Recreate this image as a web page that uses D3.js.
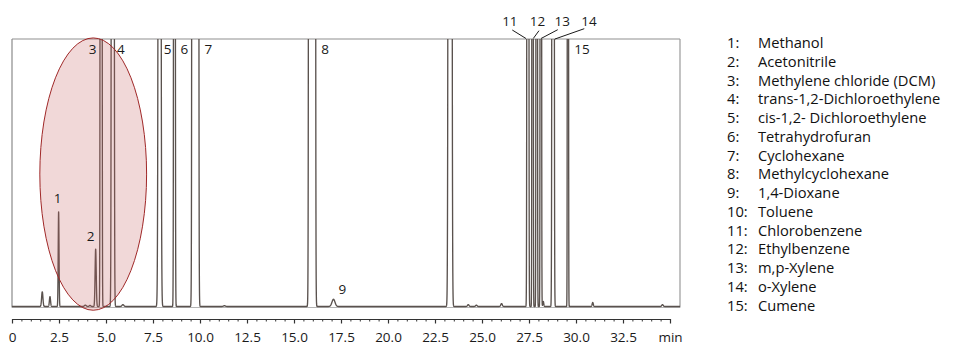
<!DOCTYPE html>
<html>
<head>
<meta charset="utf-8">
<script src="https://cdn.jsdelivr.net/npm/d3@7"></script>
<style>
  body { margin: 0; background: #fff; }
  svg { display: block; font-family: "Open Sans", sans-serif; }
</style>
</head>
<body>
<div id="chart"></div>
<script>
// labelled peaks: id, retention time (min), height (relative, 100 = top of frame), sigma (min)
const peakIds = ["1", "2", "3", "4", "5", "6", "7", "8", "9", "10", "11", "12", "13", "14", "15"];
const peakTimes = [2.48, 4.45, 4.74, 5.36, 7.85, 8.64, 9.75, 15.96, 17.10, 23.30, 27.44, 27.69, 28.13, 28.78, 29.57];
const peakHeights = [35.4, 21.5, 3000, 3000, 1100, 1500, 1e6, 1e6, 2.7, 5000, 3000, 2000, 2000, 3000, 1500];
const peakSigmas = [0.022, 0.03, 0.0234, 0.0336, 0.0413, 0.0228, 0.0453, 0.0459, 0.08, 0.0428, 0.0234, 0.0174, 0.0185, 0.0275, 0.016];

// unlabelled peaks / baseline bumps
const minorTimes = [1.61, 2.02, 3.90, 4.15, 5.90, 11.30, 24.27, 24.70, 26.04, 27.91, 28.26, 30.89, 34.60];
const minorHeights = [5.5, 3.7, 0.5, 0.4, 0.7, 0.3, 0.7, 0.5, 1.1, 2000, 1.9, 1.5, 0.7];
const minorSigmas = [0.035, 0.03, 0.05, 0.04, 0.05, 0.05, 0.04, 0.04, 0.04, 0.0185, 0.025, 0.03, 0.04];

const majorTicks = [0, 2.5, 5, 7.5, 10, 12.5, 15, 17.5, 20, 22.5, 25, 27.5, 30, 32.5, 35];

const legendNames = [
  "Methanol", "Acetonitrile", "Methylene chloride (DCM)", "trans-1,2-Dichloroethylene",
  "cis-1,2- Dichloroethylene", "Tetrahydrofuran", "Cyclohexane", "Methylcyclohexane",
  "1,4-Dioxane", "Toluene", "Chlorobenzene", "Ethylbenzene", "m,p-Xylene", "o-Xylene", "Cumene"
];

// where the peak numbers are drawn (px offset from peak, baseline y); no entry = no label
const labelLayout = {
  "1": { dx: -1, y: 203 }, "2": { dx: -5, y: 241 }, "3": { dx: -8.5, y: 54 }, "4": { dx: 8, y: 54 },
  "5": { dx: 8, y: 54 }, "6": { dx: 10, y: 54 }, "7": { dx: 13, y: 54 }, "8": { dx: 13, y: 54 },
  "9": { dx: 9, y: 294 }, "15": { dx: 14, y: 54 },
  "11": { dx: -18, y: 26, leader: [[-15.6, 30], [-1.9, 38.5]] },
  "12": { dx: 5, y: 26, leader: [[6.4, 30.7], [0.7, 38.5]] },
  "13": { dx: 21.5, y: 26, leader: [[16.9, 29.7], [0.2, 38.5]] },
  "14": { dx: 36, y: 26, leader: [[31.2, 28.7], [1.9, 39]] }
};

const width = 964, height = 355;
const frame = { left: 12, right: 680, top: 39, bottom: 307.5 };
const traceColor = "#5a524e";

const svg = d3.select("#chart").append("svg")
  .attr("width", width)
  .attr("height", height);

const x = d3.scaleLinear().domain([0, 35]).range([12, 670]);
const y = d3.scaleLinear().domain([0, 100]).range([306.5, 39]);
const tMax = x.invert(frame.right);

// signal = sum of gaussian peaks
const allPeaks = peakTimes.map((t, i) => ({ t, h: peakHeights[i], s: peakSigmas[i] }))
  .concat(minorTimes.map((t, i) => ({ t, h: minorHeights[i], s: minorSigmas[i] })));

const trace = d3.range(0, tMax + 0.002, 0.004).map(t => {
  let v = 0;
  allPeaks.forEach(p => {
    const z = (t - p.t) / p.s;
    if (Math.abs(z) < 12) v += p.h * Math.exp(-0.5 * z * z);
  });
  return { t, v: Math.min(v, 130) };
});

svg.append("clipPath").attr("id", "plotclip")
  .append("rect")
  .attr("x", frame.left).attr("y", frame.top)
  .attr("width", frame.right - frame.left)
  .attr("height", frame.bottom - frame.top + 2);

// frame
svg.append("line")
  .attr("x1", frame.left).attr("x2", frame.right)
  .attr("y1", frame.top).attr("y2", frame.top)
  .attr("stroke", "#b4b4b4").attr("stroke-width", 1.5);
svg.append("line")
  .attr("x1", frame.left).attr("x2", frame.left)
  .attr("y1", frame.top).attr("y2", frame.bottom)
  .attr("stroke", "#8a8a8a").attr("stroke-width", 1.2);
svg.append("line")
  .attr("x1", frame.right).attr("x2", frame.right)
  .attr("y1", frame.top).attr("y2", frame.bottom)
  .attr("stroke", "#9a9a9a").attr("stroke-width", 1.2);
svg.append("line")
  .attr("x1", frame.left).attr("x2", frame.right)
  .attr("y1", frame.bottom).attr("y2", frame.bottom)
  .attr("stroke", "#b4b4b4").attr("stroke-width", 1);

// the trace
svg.append("path")
  .datum(trace)
  .attr("clip-path", "url(#plotclip)")
  .attr("fill", "none")
  .attr("stroke", traceColor)
  .attr("stroke-width", 1.35)
  .attr("stroke-linejoin", "round")
  .attr("d", d3.line().x(d => x(d.t)).y(d => y(d.v)));

// highlighted region (ellipse)
const ell = { t: 4.32, v: 49.5, rt: 2.84, rv: 50.9 };
svg.append("ellipse")
  .attr("cx", x(ell.t))
  .attr("cy", y(ell.v))
  .attr("rx", x(ell.t + ell.rt) - x(ell.t))
  .attr("ry", y(0) - y(ell.rv))
  .attr("fill", "#c45a5a")
  .attr("fill-opacity", 0.24)
  .attr("stroke", "#a02828")
  .attr("stroke-width", 1);

// peak labels
peakIds.forEach((id, i) => {
  const lay = labelLayout[id];
  if (!lay) return;
  const px = x(peakTimes[i]);
  svg.append("text")
    .attr("x", px + lay.dx)
    .attr("y", lay.y)
    .attr("text-anchor", "middle")
    .attr("font-size", 13.5)
    .attr("fill", "#1a1a1a")
    .text(id);
  if (lay.leader) {
    svg.append("line")
      .attr("x1", px + lay.leader[0][0]).attr("y1", lay.leader[0][1])
      .attr("x2", px + lay.leader[1][0]).attr("y2", lay.leader[1][1])
      .attr("stroke", "#1a1a1a").attr("stroke-width", 1);
  }
});

// x axis
const axisY = 319;
svg.append("g")
  .attr("transform", "translate(0," + axisY + ")")
  .call(d3.axisBottom(x).tickValues(d3.range(0, 35.01, 0.5)).tickSize(2.5).tickSizeOuter(0).tickFormat(""))
  .call(g => g.select(".domain").attr("stroke", "#333"))
  .call(g => g.selectAll(".tick line").attr("stroke", "#333"));

svg.append("g")
  .attr("transform", "translate(0," + axisY + ")")
  .style("font-family", "'Open Sans', sans-serif")
  .style("font-size", "13.5px")
  .call(d3.axisBottom(x).tickValues(majorTicks).tickSize(4.5).tickSizeOuter(0).tickPadding(9.2)
    .tickFormat(d => d === 35 ? "min" : d === 0 ? "0" : d.toFixed(1)))
  .call(g => g.select(".domain").remove())
  .call(g => g.selectAll(".tick line").attr("stroke", "#333").attr("stroke-width", 1.2))
  .call(g => g.selectAll(".tick text").attr("fill", "#1a1a1a"));

// legend
const legend = svg.append("g").attr("font-size", 14.7).attr("fill", "#111");
legendNames.forEach((name, i) => {
  const ly = 48.3 + i * 18.73;
  legend.append("text").attr("x", 727).attr("y", ly).text((i + 1) + ":");
  legend.append("text").attr("x", 758).attr("y", ly).text(name);
});
</script>
</body>
</html>
